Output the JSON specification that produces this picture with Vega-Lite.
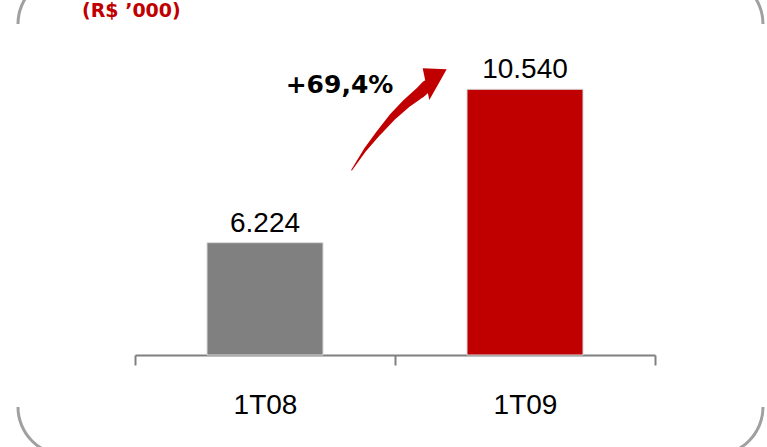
{
  "$schema": "https://vega.github.io/schema/vega-lite/v6.json",
  "width": 520,
  "height": 315,
  "autosize": {"type": "none"},
  "padding": {"left": 135, "top": 40, "right": 112, "bottom": 92},
  "background": "white",
  "config": {"view": {"stroke": null}, "font": "Liberation Sans"},
  "datasets": {
    "barras": [
      {"trimestre": "1T08", "valor": 6224, "rotulo": "6.224"},
      {"trimestre": "1T09", "valor": 10540, "rotulo": "10.540"}
    ],
    "seta": [
      {"ordem": 1, "u": 0.8335, "v": 8270, "peso": 0},
      {"ordem": 2, "u": 0.8846, "v": 8833, "peso": 0.18},
      {"ordem": 3, "u": 0.9358, "v": 9303, "peso": 0.36},
      {"ordem": 4, "u": 0.9912, "v": 9770, "peso": 0.55},
      {"ordem": 5, "u": 1.045, "v": 10147, "peso": 0.73},
      {"ordem": 6, "u": 1.0962, "v": 10445, "peso": 0.91},
      {"ordem": 7, "u": 1.1231, "v": 10634, "peso": 1}
    ],
    "ponta": [{"u": 1.1458, "v": 10825}],
    "variacao": [{"u": 0.7865, "v": 10437, "texto": "+69,4%"}],
    "unidade": [{"u": -0.2038, "v": 12584, "texto": "(R$ ’000)"}],
    "cantos": [
      {"u": -0.2654, "v": 12378, "a1": 270, "a2": 360},
      {"u": 2.2308, "v": 12378, "a1": 0, "a2": 90},
      {"u": 2.2308, "v": 1601, "a1": 90, "a2": 180},
      {"u": -0.2654, "v": 1601, "a1": 180, "a2": 270}
    ]
  },
  "resolve": {"scale": {"x": "independent"}},
  "layer": [
    {
      "data": {"name": "barras"},
      "encoding": {
        "x": {
          "field": "trimestre",
          "type": "nominal",
          "sort": null,
          "scale": {"paddingInner": 0, "paddingOuter": 0},
          "axis": {
            "title": null,
            "labelAngle": 0,
            "labelFont": "Liberation Sans",
            "labelFontSize": 28,
            "labelColor": "#000000",
            "labelBaseline": "alphabetic",
            "labelPadding": 48,
            "tickBand": "extent",
            "tickSize": 10,
            "tickWidth": 2,
            "tickColor": "#808080",
            "domainColor": "#808080",
            "domainWidth": 2,
            "grid": false
          }
        },
        "y": {
          "field": "valor",
          "type": "quantitative",
          "scale": {"domain": [3064, 11927], "zero": false, "nice": false},
          "axis": null
        }
      },
      "layer": [
        {
          "mark": {"type": "bar", "size": 116, "stroke": "#d9d9d9", "strokeWidth": 1},
          "encoding": {
            "y2": {"datum": 3064},
            "color": {
              "field": "trimestre",
              "type": "nominal",
              "scale": {"domain": ["1T08", "1T09"], "range": ["#808080", "#C00000"]},
              "legend": null
            }
          }
        },
        {
          "mark": {"type": "text", "baseline": "alphabetic", "dy": -11, "fontSize": 28, "font": "Liberation Sans", "color": "#000000"},
          "encoding": {"text": {"field": "rotulo"}}
        }
      ]
    },
    {
      "encoding": {
        "x": {"field": "u", "type": "quantitative", "scale": {"domain": [0, 2], "nice": false, "zero": false}, "axis": null},
        "y": {"field": "v", "type": "quantitative", "scale": {"domain": [3064, 11927], "zero": false, "nice": false}, "axis": null}
      },
      "layer": [
        {
          "data": {"name": "cantos"},
          "mark": {"type": "arc", "innerRadius": 46.5, "outerRadius": 49.5, "color": "#a0a0a0"},
          "encoding": {
            "theta": {"field": "a1", "type": "quantitative", "stack": null, "scale": {"domain": [0, 360], "range": [0, 6.283185]}},
            "theta2": {"field": "a2"}
          }
        },
        {
          "data": {"name": "seta"},
          "mark": {"type": "trail", "color": "#C00000"},
          "encoding": {
            "order": {"field": "ordem", "type": "quantitative"},
            "size": {"field": "peso", "type": "quantitative", "scale": {"domain": [0, 1], "range": [1, 12]}, "legend": null}
          }
        },
        {
          "data": {"name": "ponta"},
          "mark": {"type": "point", "shape": "M-0.51,-0.545L0.69,-0.495L-0.18,1.04Z", "filled": true, "color": "#C00000", "opacity": 1, "size": 1600}
        },
        {
          "data": {"name": "variacao"},
          "mark": {"type": "text", "font": "DejaVu Sans", "fontWeight": "bold", "fontSize": 25, "align": "center", "baseline": "alphabetic", "color": "#000000"},
          "encoding": {"text": {"field": "texto"}}
        },
        {
          "data": {"name": "unidade"},
          "mark": {"type": "text", "font": "DejaVu Sans", "fontWeight": "bold", "fontSize": 19, "align": "left", "baseline": "alphabetic", "color": "#C00000"},
          "encoding": {"text": {"field": "texto"}}
        }
      ]
    }
  ]
}
